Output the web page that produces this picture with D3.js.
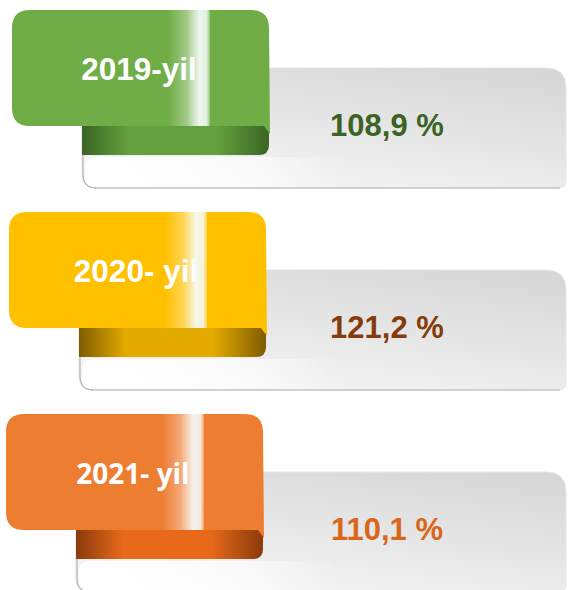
<!DOCTYPE html>
<html>
<head>
<meta charset="utf-8">
<script src="https://cdn.jsdelivr.net/npm/d3@7"></script>
<style>
  body { margin: 0; background: #fff; }
  svg { display: block; }
</style>
</head>
<body>
<div class="chart"></div>
<script>
// data
var years = ["2019-yil", "2020- yil", "2021- yil"];
var values = [108.9, 121.2, 110.1];

// palette per block
var tabColors = ["#70ad47", "#ffc000", "#ed7d31"];
var foldDark = ["#3a6524", "#7f5c00", "#8a3a0c"];
var foldMid = ["#64a03d", "#e3aa00", "#e8691a"];
var valueColors = ["#3b6424", "#843c0c", "#d8661c"];
var yearFonts = ["'Liberation Sans', Arial", "'Liberation Sans', Arial", "'Open Sans', Calibri"];

var W = 571, H = 590;
var y = d3.scaleLinear().domain([0, 2]).range([10, 414]);
var xs = d3.scaleLinear().domain([0, 2]).range([12, 6]);
var fmt = function(v) { return d3.format(".1f")(v).replace(".", ",") + " %"; };

var svg = d3.select(".chart").append("svg").attr("width", W).attr("height", H);
var defs = svg.append("defs");

// shared gradients
var box = defs.append("linearGradient").attr("id", "boxGrad")
  .attr("x1", 0.85).attr("y1", 0).attr("x2", 0.25).attr("y2", 1);
box.append("stop").attr("offset", 0).attr("stop-color", "#d7d7d7");
box.append("stop").attr("offset", 1).attr("stop-color", "#f6f6f6");

var curl = defs.append("linearGradient").attr("id", "curlGrad")
  .attr("x1", 0).attr("y1", 0).attr("x2", 1).attr("y2", 0);
curl.append("stop").attr("offset", 0).attr("stop-color", "#fff").attr("stop-opacity", 1);
curl.append("stop").attr("offset", 0.6).attr("stop-color", "#fff").attr("stop-opacity", 0.7);
curl.append("stop").attr("offset", 1).attr("stop-color", "#fff").attr("stop-opacity", 0);

var shine = defs.append("linearGradient").attr("id", "shineGrad")
  .attr("x1", 0).attr("y1", 0).attr("x2", 1).attr("y2", 0);
shine.append("stop").attr("offset", 0).attr("stop-color", "#fff").attr("stop-opacity", 0);
shine.append("stop").attr("offset", 0.45).attr("stop-color", "#fff").attr("stop-opacity", 0.35);
shine.append("stop").attr("offset", 0.75).attr("stop-color", "#f4fbf8").attr("stop-opacity", 0.95);
shine.append("stop").attr("offset", 0.92).attr("stop-color", "#f4fbf8").attr("stop-opacity", 0.85);
shine.append("stop").attr("offset", 1).attr("stop-color", "#fff").attr("stop-opacity", 0.25);

years.forEach(function(d, i) {
  var g = defs.append("linearGradient").attr("id", "fold" + i)
    .attr("x1", 0).attr("y1", 0).attr("x2", 1).attr("y2", 0);
  g.append("stop").attr("offset", 0).attr("stop-color", foldDark[i]);
  g.append("stop").attr("offset", 0.25).attr("stop-color", foldMid[i]);
  g.append("stop").attr("offset", 0.72).attr("stop-color", foldMid[i]);
  g.append("stop").attr("offset", 1).attr("stop-color", foldDark[i]);
});

var blocks = svg.selectAll("g.block").data(years).enter().append("g")
  .attr("class", "block")
  .attr("transform", function(d, i) { return "translate(0," + y(i) + ")"; });

blocks.each(function(d, i) {
  var g = d3.select(this);
  var ox = xs(i);
  var bx = ox + 70, bx2 = 566, bt = 58, bb = 178, r = 20;

  // grey panel
  var p = d3.path();
  p.moveTo(bx, bt);
  p.lineTo(bx2 - r, bt);
  p.quadraticCurveTo(bx2, bt, bx2, bt + r);
  p.lineTo(bx2, bb - 8);
  p.quadraticCurveTo(bx2, bb, bx2 - 8, bb);
  p.lineTo(bx + 14, bb);
  p.quadraticCurveTo(bx, bb, bx, bb - 14);
  p.closePath();
  g.append("path").attr("d", p.toString()).attr("fill", "url(#boxGrad)")
    .attr("stroke", "#e6e6e6").attr("stroke-width", 1);
  g.append("line").attr("x1", bx + 12).attr("x2", bx2 - 6).attr("y1", bb).attr("y2", bb)
    .attr("stroke", "#c6c6c6").attr("stroke-width", 1.5);

  // paper curl under the ribbon
  var c = d3.path();
  c.moveTo(bx + 3, bb - 1);
  c.lineTo(bx + 3, 158);
  c.quadraticCurveTo(bx + 3, 147, bx + 16, 147);
  c.lineTo(bx + 260, 147);
  c.lineTo(bx + 260, bb - 1);
  c.closePath();
  g.append("path").attr("d", c.toString()).attr("fill", "url(#curlGrad)");
  var e = d3.path();
  e.moveTo(bx + 1, 140);
  e.lineTo(bx + 1, bb - 14);
  e.quadraticCurveTo(bx + 1, bb, bx + 14, bb);
  g.append("path").attr("d", e.toString()).attr("fill", "none")
    .attr("stroke", "#b5b5b5").attr("stroke-width", 1.2);

  // ribbon fold
  var tx1 = ox + 257;
  var f = d3.path();
  f.moveTo(bx, 110);
  f.lineTo(tx1, 110);
  f.lineTo(tx1, 135);
  f.quadraticCurveTo(tx1, 145, tx1 - 10, 145);
  f.lineTo(bx, 145);
  f.closePath();
  g.append("path").attr("d", f.toString()).attr("fill", "url(#fold" + i + ")");

  // tab
  var tr = 18, th = 116;
  var t = d3.path();
  t.moveTo(ox + tr, 0);
  t.lineTo(tx1 - tr, 0);
  t.quadraticCurveTo(tx1, 0, tx1, tr);
  t.lineTo(tx1 + 1, th + 8);
  t.lineTo(tx1 - 5, th);
  t.lineTo(ox + tr, th);
  t.quadraticCurveTo(ox, th, ox, th - tr);
  t.lineTo(ox, tr);
  t.quadraticCurveTo(ox, 0, ox + tr, 0);
  t.closePath();
  g.append("path").attr("d", t.toString()).attr("fill", tabColors[i]);

  g.append("text")
    .attr("x", ox + 127).attr("y", 70)
    .attr("text-anchor", "middle")
    .attr("font-family", yearFonts[i])
    .attr("font-weight", "bold")
    .attr("font-size", i == 2 ? 28 : 31.5)
    .attr("fill", "#fff")
    .text(d);

  // glossy stripe
  g.append("rect").attr("x", ox + 156).attr("y", 0).attr("width", 42).attr("height", th)
    .attr("fill", "url(#shineGrad)");

  // value
  g.append("text")
    .attr("x", 387).attr("y", 126)
    .attr("text-anchor", "middle")
    .attr("font-family", "'Liberation Sans', Arial")
    .attr("font-weight", "bold")
    .attr("font-size", 31)
    .attr("fill", valueColors[i])
    .text(fmt(values[i]));
});
</script>
</body>
</html>
